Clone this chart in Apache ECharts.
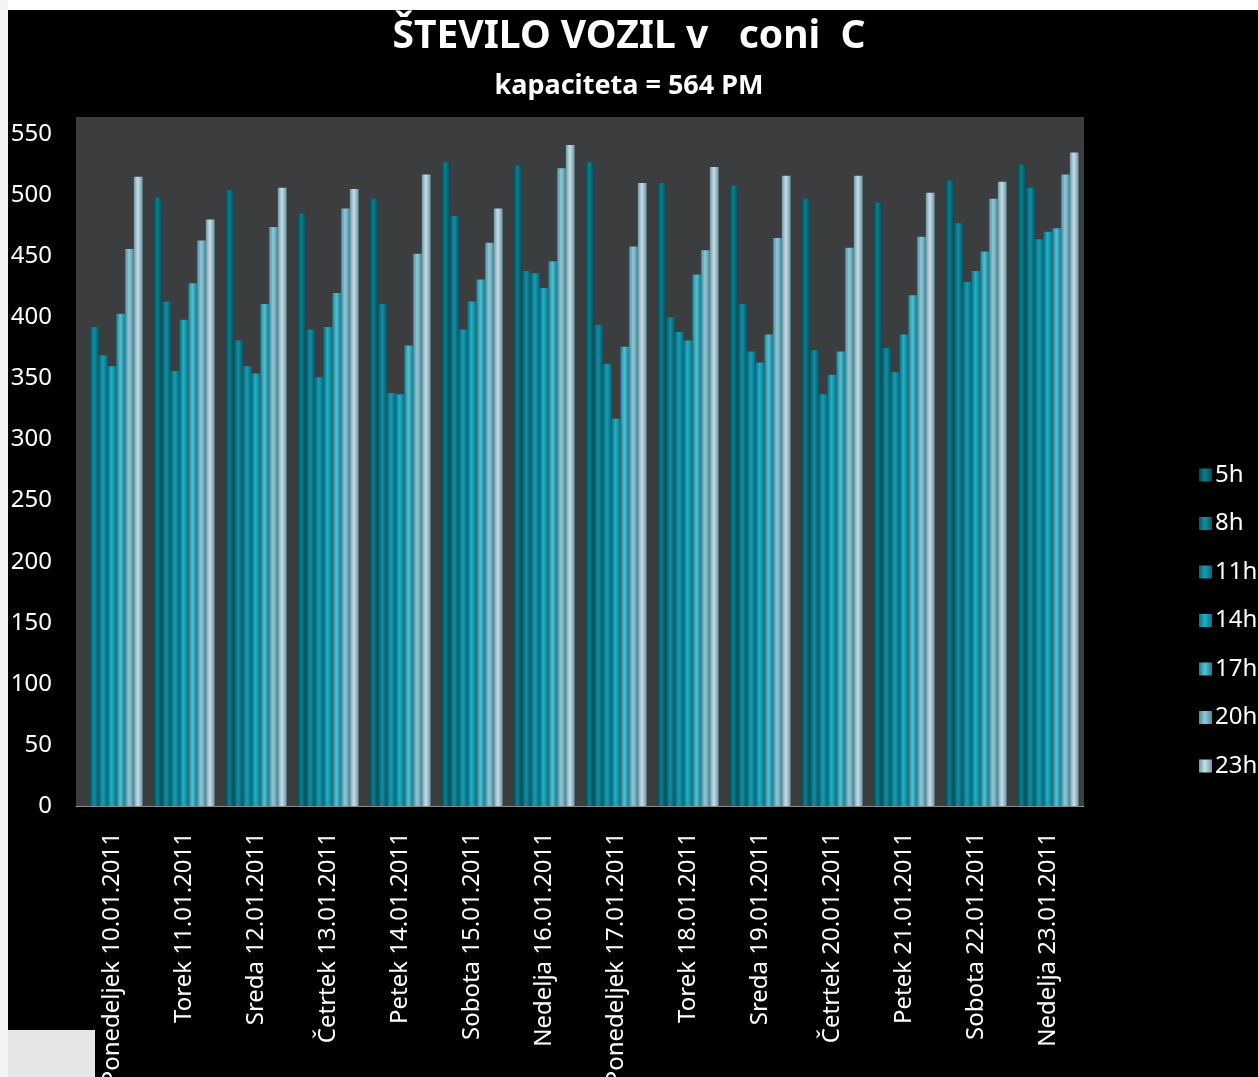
<!DOCTYPE html>
<html>
<head>
<meta charset="utf-8">
<script src="https://cdn.jsdelivr.net/npm/echarts@6/dist/echarts.min.js"></script>
<style>
  html, body { margin: 0; padding: 0; background: #fff; }
  #chart { width: 1258px; height: 1077px; }
</style>
</head>
<body>
<div id="chart"></div>
<script>
const categories = [
  'Ponedeljek 10.01.2011', 'Torek 11.01.2011', 'Sreda 12.01.2011', 'Četrtek 13.01.2011',
  'Petek 14.01.2011', 'Sobota 15.01.2011', 'Nedelja 16.01.2011', 'Ponedeljek 17.01.2011',
  'Torek 18.01.2011', 'Sreda 19.01.2011', 'Četrtek 20.01.2011', 'Petek 21.01.2011',
  'Sobota 22.01.2011', 'Nedelja 23.01.2011'
]
const seriesNames = ['5h', '8h', '11h', '14h', '17h', '20h', '23h']

const h5 = [null, 498, 504, 485, 497, 527, 524, 527, 510, 508, 497, 494, 512, 525]
const h8 = [392, 413, 381, 390, 411, 483, 438, 394, 400, 411, 373, 375, 477, 506]
const h11 = [369, 356, 360, 351, 338, 390, 436, 362, 388, 372, 337, 355, 429, 464]
const h14 = [360, 398, 354, 392, 337, 413, 424, 317, 381, 363, 353, 386, 438, 470]
const h17 = [403, 428, 411, 420, 377, 431, 446, 376, 435, 386, 372, 418, 454, 473]
const h20 = [456, 463, 474, 489, 452, 461, 522, 458, 455, 465, 457, 466, 497, 517]
const h23 = [515, 480, 506, 505, 517, 489, 541, 510, 523, 516, 516, 502, 511, 535]

const yTicks = [0, 50, 100, 150, 200, 250, 300, 350, 400, 450, 500, 550]
const yMax = 564

const values = [h5, h8, h11, h14, h17, h20, h23]

// edge / centre colours of the cylinder bars
const barColors = [
  ['#054752', '#0c7f90'],
  ['#065866', '#0f90a4'],
  ['#07677a', '#159fb4'],
  ['#08748a', '#1fb0c4'],
  ['#1a7f94', '#55c0d2'],
  ['#4a8c9e', '#92cad9'],
  ['#6f98a6', '#c8e0e8']
]

const chart = echarts.init(document.getElementById('chart'))

const series = seriesNames.map((name, i) => ({
  name,
  type: 'bar',
  data: values[i],
  barGap: '0%',
  barCategoryGap: '15%',
  itemStyle: {
    color: new echarts.graphic.LinearGradient(0, 0, 1, 0, [
      { offset: 0, color: barColors[i][0] },
      { offset: 0.45, color: barColors[i][1] },
      { offset: 1, color: barColors[i][0] }
    ])
  }
}))

chart.setOption({
  backgroundColor: '#000',
  animation: false,
  graphic: [
    { type: 'rect', left: 0, top: 0, shape: { width: 1258, height: 10 }, style: { fill: '#fff' }, z: 100 },
    { type: 'rect', left: 0, top: 0, shape: { width: 8, height: 1077 }, style: { fill: '#f4f4f4' }, z: 100 },
    { type: 'rect', left: 0, top: 1030, shape: { width: 95, height: 47 }, style: { fill: '#e6e6e6' }, z: -1 }
  ],
  title: [
    {
      text: 'ŠTEVILO VOZIL v   coni  C',
      left: 'center',
      top: 12,
      textStyle: { color: '#fff', fontSize: 39, fontWeight: 'bold', fontFamily: 'Noto Sans' }
    },
    {
      text: 'kapaciteta = 564 PM',
      left: 'center',
      top: 68,
      textStyle: { color: '#fff', fontSize: 27, fontWeight: 'bold', fontFamily: 'Noto Sans' }
    }
  ],
  legend: {
    data: seriesNames,
    orient: 'vertical',
    left: 1194,
    top: 458,
    itemWidth: 13,
    itemHeight: 13,
    itemGap: 24.5,
    icon: 'rect',
    textStyle: { color: '#fff', fontSize: 24, fontFamily: 'Noto Sans', padding: [0, 0, 0, -2] }
  },
  grid: {
    left: 76,
    right: 174,
    top: 117,
    bottom: 271,
    outerBoundsMode: 'none',
    containLabel: false,
    show: true,
    backgroundColor: '#3b3d3e',
    borderWidth: 0
  },
  xAxis: {
    type: 'category',
    data: categories,
    axisLine: { show: true, lineStyle: { color: '#8a8a8a', width: 1 } },
    axisTick: { show: false },
    axisLabel: {
      interval: 0,
      rotate: 90,
      margin: 26,
      color: '#fff',
      fontSize: 24,
      fontFamily: 'Noto Sans'
    }
  },
  yAxis: {
    type: 'value',
    min: yTicks[0],
    max: yMax,
    interval: yTicks[1] - yTicks[0],
    axisLine: { show: false },
    axisTick: { show: false },
    splitLine: { show: false },
    axisLabel: {
      showMaxLabel: false,
      margin: 24,
      color: '#fff',
      fontSize: 24,
      fontFamily: 'Noto Sans'
    }
  },
  series
})
</script>
</body>
</html>
